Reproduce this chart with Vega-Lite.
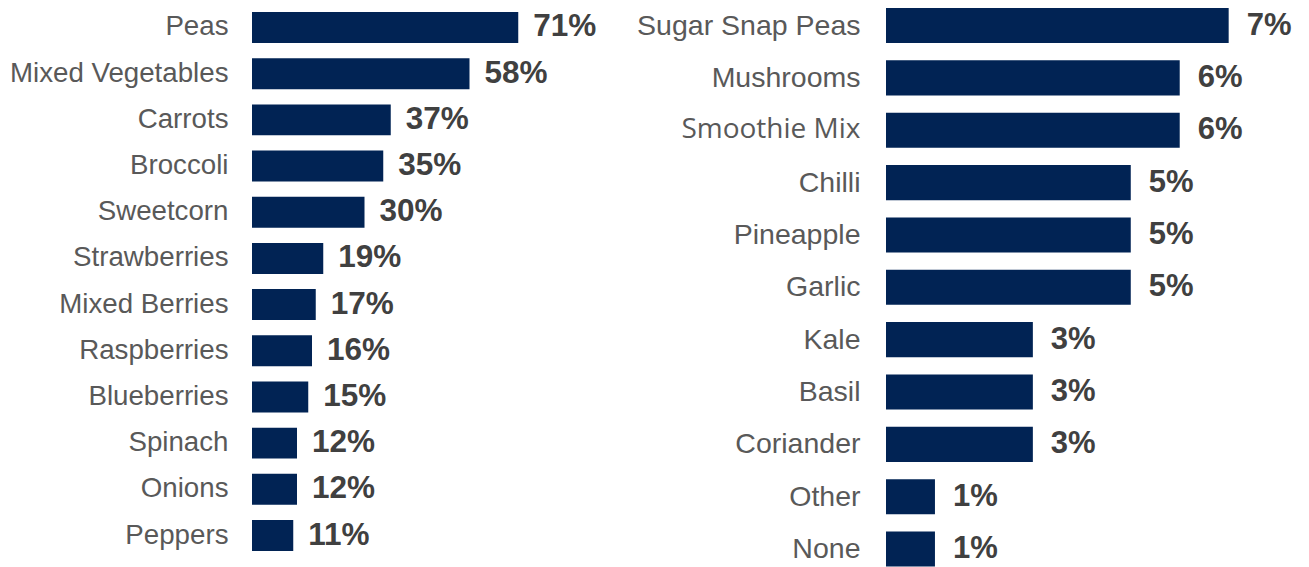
{
  "$schema": "https://vega.github.io/schema/vega-lite/v6.json",
  "padding": 0,
  "background": "white",
  "spacing": 0,
  "config": {"view": {"stroke": null}},
  "datasets": {
    "left": [
      {"item": "Peas", "pct": 0.71},
      {"item": "Mixed Vegetables", "pct": 0.58},
      {"item": "Carrots", "pct": 0.37},
      {"item": "Broccoli", "pct": 0.35},
      {"item": "Sweetcorn", "pct": 0.30},
      {"item": "Strawberries", "pct": 0.19},
      {"item": "Mixed Berries", "pct": 0.17},
      {"item": "Raspberries", "pct": 0.16},
      {"item": "Blueberries", "pct": 0.15},
      {"item": "Spinach", "pct": 0.12},
      {"item": "Onions", "pct": 0.12},
      {"item": "Peppers", "pct": 0.11}
    ],
    "right": [
      {"item": "Sugar Snap Peas", "pct": 0.07},
      {"item": "Mushrooms", "pct": 0.06},
      {"item": "Smoothie Mix", "pct": 0.06},
      {"item": "Chilli", "pct": 0.05},
      {"item": "Pineapple", "pct": 0.05},
      {"item": "Garlic", "pct": 0.05},
      {"item": "Kale", "pct": 0.03},
      {"item": "Basil", "pct": 0.03},
      {"item": "Coriander", "pct": 0.03},
      {"item": "Other", "pct": 0.01},
      {"item": "None", "pct": 0.01}
    ]
  },
  "hconcat": [
    {
      "width": 375,
      "height": 563,
      "data": {"name": "left"},
      "encoding": {
        "y": {
          "field": "item", "type": "nominal", "sort": null,
          "scale": {"paddingInner": 0.33, "paddingOuter": 0.26},
          "axis": {"title": null, "ticks": false, "domain": false, "grid": false, "labelPadding": 24,
                   "labelFont": "Liberation Sans", "labelFontSize": 27.7, "labelColor": "#595959",
                   "minExtent": 252, "maxExtent": 252, "labelLimit": 400}
        },
        "x": {"field": "pct", "type": "quantitative", "scale": {"domain": [0, 1], "nice": false}, "axis": null}
      },
      "layer": [
        {"mark": {"type": "bar", "color": "#012354"}},
        {"mark": {"type": "text", "align": "left", "dx": 15, "font": "Liberation Sans", "fontSize": 31.5, "fontWeight": "bold", "color": "#404040"},
         "encoding": {"text": {"field": "pct", "type": "quantitative", "format": ".0%"}}}
      ]
    },
    {
      "width": 421,
      "height": 567,
      "data": {"name": "right"},
      "encoding": {
        "y": {
          "field": "item", "type": "nominal", "sort": null,
          "scale": {"paddingInner": 0.33, "paddingOuter": 0.0805, "align": 0.95},
          "axis": {"title": null, "ticks": false, "domain": false, "grid": false, "labelPadding": 26,
                   "labelFont": {"condition": {"test": "datum.value === 'Smoothie Mix'", "value": "Open Sans"}, "value": "Liberation Sans"},
                   "labelFontSize": {"condition": {"test": "datum.value === 'Smoothie Mix'", "value": 28}, "value": 28.5},
                   "labelColor": "#595959",
                   "minExtent": 259, "maxExtent": 259, "labelLimit": 400}
        },
        "x": {"field": "pct", "type": "quantitative", "scale": {"domain": [0, 0.086], "nice": false}, "axis": null}
      },
      "layer": [
        {"mark": {"type": "bar", "color": "#012354"}},
        {"mark": {"type": "text", "align": "left", "dx": 18, "font": "Liberation Sans", "fontSize": 31, "fontWeight": "bold", "color": "#404040"},
         "encoding": {"text": {"field": "pct", "type": "quantitative", "format": ".0%"}}}
      ]
    }
  ]
}
